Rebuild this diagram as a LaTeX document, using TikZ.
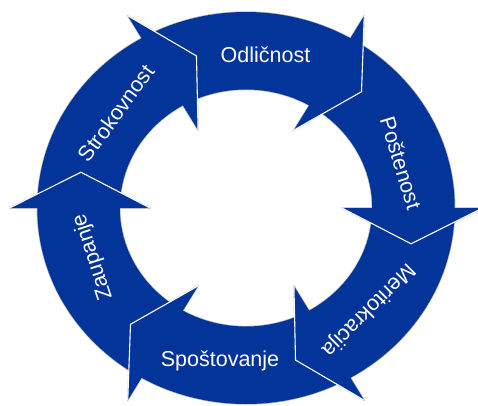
\documentclass[tikz,border=0pt]{standalone}
\usepackage{fontspec}
\setmainfont{Liberation Sans}
\definecolor{ringblue}{RGB}{2,52,153}
\begin{document}
\begin{tikzpicture}
        [x=1pt, y=1pt,
        ringfill/.style={fill=ringblue},
        headfill/.style={fill=ringblue},
        halo/.style={black!25, line width=1.4pt, line join=round},
        frontedge/.style={white, line width=1.1pt, line join=miter},
        word/.style={text=white, font=\fontsize{21.5}{24}\selectfont, inner sep=0pt}]

        \useasboundingbox (-246,-197) rectangle (232,208);

        \begin{scope}[xscale=1.065]
        % O: outer barb, T: tip, I: inner barb of each arrow head
        \coordinate (O1) at (60:222);   \coordinate (T1) at (47:159);   \coordinate (I1) at (60:90);
        \coordinate (O2) at (0:222);    \coordinate (T2) at (-13:159);  \coordinate (I2) at (0:90);
        \coordinate (O3) at (-60:222);  \coordinate (T3) at (-73:159);  \coordinate (I3) at (-60:90);
        \coordinate (O4) at (-120:222); \coordinate (T4) at (-133:159); \coordinate (I4) at (-120:90);
        \coordinate (O5) at (180:222);  \coordinate (T5) at (167:159);  \coordinate (I5) at (180:90);
        \coordinate (O6) at (120:222);  \coordinate (T6) at (107:159);  \coordinate (I6) at (120:90);

        % --- Faint grey edge round the whole shape ---
        \draw[halo] (0,0) circle [radius=196];
        \draw[halo] (0,0) circle [radius=118.5];
        \draw[halo] (O1) -- (T1) -- (I1) -- cycle;
        \draw[halo] (O2) -- (T2) -- (I2) -- cycle;
        \draw[halo] (O3) -- (T3) -- (I3) -- cycle;
        \draw[halo] (O4) -- (T4) -- (I4) -- cycle;
        \draw[halo] (O5) -- (T5) -- (I5) -- cycle;
        \draw[halo] (O6) -- (T6) -- (I6) -- cycle;

        % --- The ring ---
        \fill[ringfill, even odd rule] (0,0) circle [radius=196] (0,0) circle [radius=118.5];

        % --- Arrow heads ---
        \fill[headfill] (O1) -- (T1) -- (I1) -- cycle;
        \fill[headfill] (O2) -- (T2) -- (I2) -- cycle;
        \fill[headfill] (O3) -- (T3) -- (I3) -- cycle;
        \fill[headfill] (O4) -- (T4) -- (I4) -- cycle;
        \fill[headfill] (O5) -- (T5) -- (I5) -- cycle;
        \fill[headfill] (O6) -- (T6) -- (I6) -- cycle;

        % white line where a head lies over the next arrow
        \draw[frontedge] (O1) -- (T1) -- (I1);
        \draw[frontedge] (O2) -- (T2) -- (I2);
        \draw[frontedge] (O3) -- (T3) -- (I3);
        \draw[frontedge] (O4) -- (T4) -- (I4);
        \draw[frontedge] (O5) -- (T5) -- (I5);
        \draw[frontedge] (O6) -- (T6) -- (I6);
        \end{scope}

        % --- Labels ---
        \node[word] (odlicnost) at (19.5,153) {Odličnost};
        \node[word, rotate=-73] (postenost) at (155,45) {Poštenost};
        \node[word, rotate=-135] (meritokracija) at (122,-102) {Meritokracija};
        \node[word] (spostovanje) at (-26,-153) {Spoštovanje};
        \node[word, rotate=108] (zaupanje) at (-153,-49) {Zaupanje};
        \node[word, rotate=54] (strokovnost) at (-130,95) {Strokovnost};
    \end{tikzpicture}
\end{document}
